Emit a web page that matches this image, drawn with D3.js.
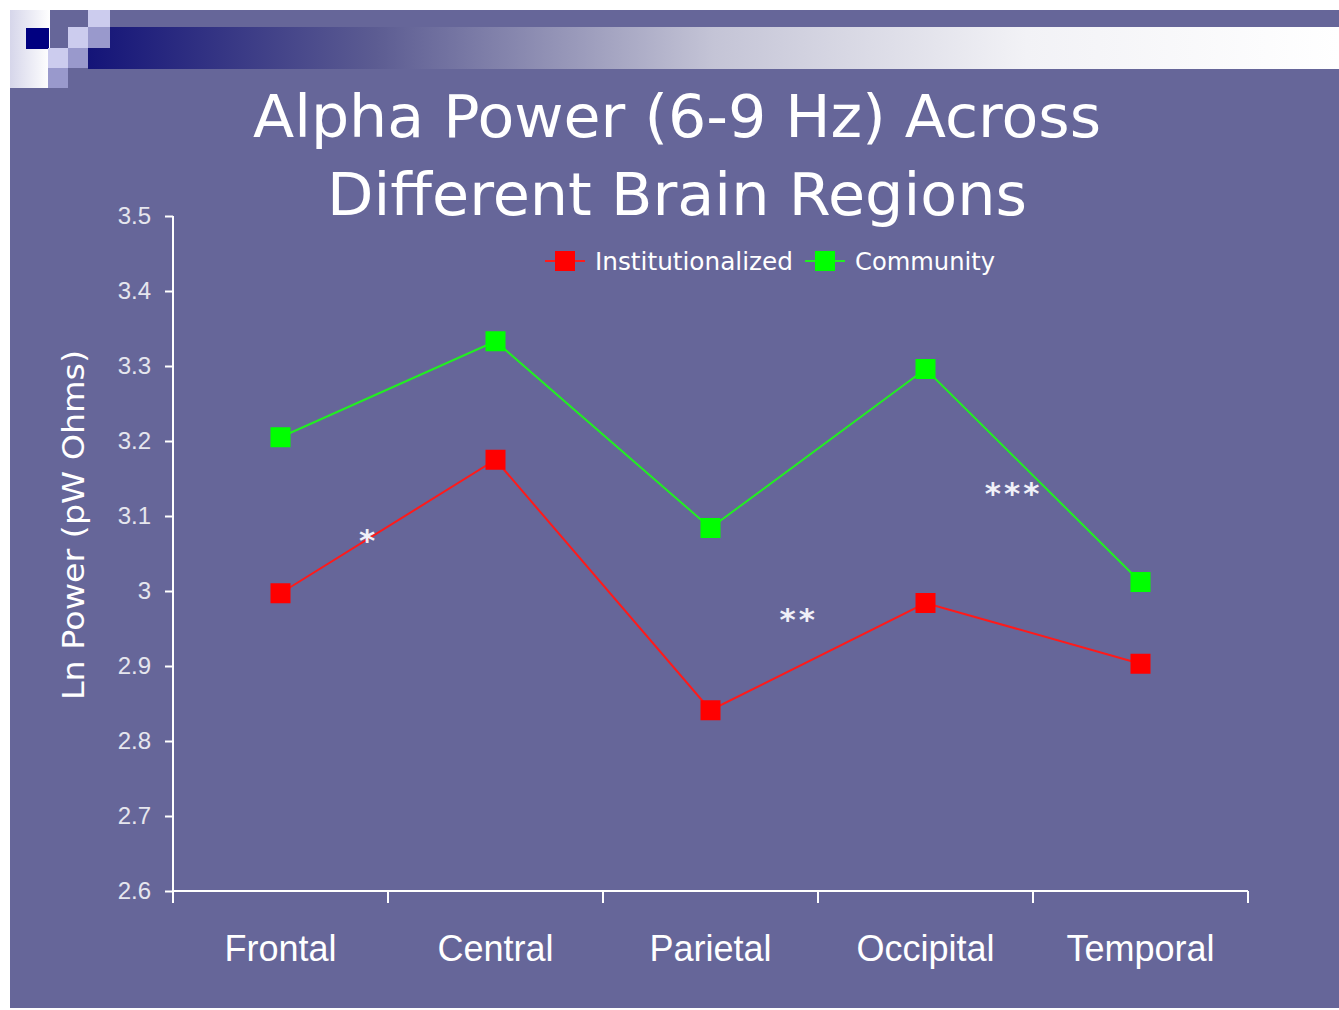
<!DOCTYPE html>
<html>
<head>
<meta charset="utf-8">
<script src="https://cdn.jsdelivr.net/npm/d3@7"></script>
<style>
  body { margin: 0; background: #fff; }
  svg { display: block; }
</style>
</head>
<body>
<script>
const regions = ["Frontal", "Central", "Parietal", "Occipital", "Temporal"];
const institutionalized = [2.997, 3.175, 2.841, 2.984, 2.903];
const community = [3.205, 3.333, 3.084, 3.296, 3.012];
const yTicks = [2.6, 2.7, 2.8, 2.9, 3, 3.1, 3.2, 3.3, 3.4, 3.5];
const stars = [
  {label: "*", pos: 0.41, value: 3.075},
  {label: "**", pos: 2.41, value: 2.97},
  {label: "***", pos: 3.41, value: 3.138}
];

const W = 1339, H = 1010;
const margin = {top: 216, left: 173, right: 91, bottom: 119};
const width = W - margin.left - margin.right,
    height = H - margin.top - margin.bottom;
const bg = "#666699";

const svg = d3.select("body").append("svg")
    .attr("width", W)
    .attr("height", H);

const defs = svg.append("defs");
const grad = defs.append("linearGradient").attr("id", "band");
grad.append("stop").attr("offset", "0%").attr("stop-color", "#141478");
grad.append("stop").attr("offset", "23%").attr("stop-color", "#5c5c92");
grad.append("stop").attr("offset", "50%").attr("stop-color", "#c4c4d6");
grad.append("stop").attr("offset", "75%").attr("stop-color", "#f2f2f6");
grad.append("stop").attr("offset", "100%").attr("stop-color", "#ffffff");
const grad2 = defs.append("linearGradient").attr("id", "leftSq");
grad2.append("stop").attr("offset", "0%").attr("stop-color", "#d6d6ea");
grad2.append("stop").attr("offset", "100%").attr("stop-color", "#ffffff");

// slide background
svg.append("rect")
    .attr("x", 10).attr("y", 10)
    .attr("width", W - 10).attr("height", 998)
    .attr("fill", bg);

// header band
svg.append("rect")
    .attr("x", 88).attr("y", 27)
    .attr("width", W - 88).attr("height", 42)
    .attr("fill", "url(#band)");
svg.append("rect").attr("x", 10).attr("y", 10).attr("width", 40).attr("height", 78)
    .attr("fill", "url(#leftSq)");
const squares = [
  [26, 28, 23, 21, "#000080"],
  [88, 10, 22, 17, "#ccccee"],
  [68, 27, 20, 21, "#ccccee"],
  [88, 27, 22, 21, "#9999cc"],
  [48, 48, 20, 20, "#ccccee"],
  [68, 48, 20, 20, "#9999cc"],
  [48, 68, 20, 20, "#9999cc"]
];
svg.selectAll("rect.sq").data(squares).enter().append("rect")
    .attr("class", "sq")
    .attr("x", d => d[0]).attr("y", d => d[1])
    .attr("width", d => d[2]).attr("height", d => d[3])
    .attr("fill", d => d[4]);

// title
const title = svg.append("text")
    .attr("x", 677)
    .attr("text-anchor", "middle")
    .attr("fill", "#ffffff")
    .style("font-family", "'DejaVu Sans', Verdana, sans-serif")
    .style("font-size", "58px");
title.append("tspan").attr("x", 677).attr("y", 137)
    .attr("textLength", 848).attr("lengthAdjust", "spacingAndGlyphs")
    .text("Alpha Power (6-9 Hz) Across");
title.append("tspan").attr("x", 677).attr("y", 215)
    .attr("textLength", 700).attr("lengthAdjust", "spacingAndGlyphs")
    .text("Different Brain Regions");

const g = svg.append("g")
    .attr("transform", "translate(" + margin.left + "," + margin.top + ")");

const x = d3.scaleBand().domain(regions).range([0, width]);
const y = d3.scaleLinear().domain([2.6, 3.5]).range([height, 0]);
const cx = d => x(d) + x.bandwidth() / 2;

const yAxis = d3.axisLeft(y)
    .tickValues(yTicks)
    .tickFormat(d3.format("~g"))
    .tickSize(8)
    .tickPadding(14);
const yg = g.append("g").call(yAxis);
yg.select(".domain").attr("d", "M0,0V" + height);

const xAxis = d3.axisBottom(x).tickSize(0).tickPadding(44);
const xg = g.append("g")
    .attr("transform", "translate(0," + height + ")")
    .call(xAxis);
xg.select(".domain").attr("d", "M0,0H" + width);

// category boundary ticks
const bounds = regions.map(r => x(r)).concat([width]);
xg.selectAll("line.bound").data(bounds).enter().append("line")
    .attr("class", "bound")
    .attr("x1", d => d).attr("x2", d => d)
    .attr("y1", 0).attr("y2", 12)
    .attr("stroke", "#ffffff").attr("stroke-width", 2);

[yg, xg].forEach(a => {
  a.selectAll(".domain, .tick line").attr("stroke", "#ffffff").attr("stroke-width", 2);
});
yg.selectAll(".tick text")
    .attr("fill", "#e6e6ee")
    .style("font-family", "'Liberation Sans', Arial, sans-serif")
    .style("font-size", "24px");
xg.selectAll(".tick text")
    .attr("fill", "#ffffff")
    .style("font-family", "'Liberation Sans', Arial, sans-serif")
    .style("font-size", "36px");

// y axis title
svg.append("text")
    .attr("transform", "translate(84,525) rotate(-90)")
    .attr("text-anchor", "middle")
    .attr("fill", "#ffffff")
    .style("font-family", "'DejaVu Sans', Verdana, sans-serif")
    .style("font-size", "30px")
    .attr("textLength", 350).attr("lengthAdjust", "spacingAndGlyphs")
    .text("Ln Power (pW Ohms)");

const series = [
  {name: "Institutionalized", values: institutionalized, color: "#ff0000", line: "#ff1a1a"},
  {name: "Community", values: community, color: "#00ff00", line: "#22ee22"}
];

const line = d3.line()
    .x((d, i) => cx(regions[i]))
    .y(d => y(d));

series.forEach(s => {
  g.append("path")
      .datum(s.values)
      .attr("fill", "none")
      .attr("stroke", s.line)
      .attr("stroke-width", 2)
      .attr("d", line);
  g.selectAll(null).data(s.values).enter().append("rect")
      .attr("x", (d, i) => cx(regions[i]) - 10)
      .attr("y", d => y(d) - 10)
      .attr("width", 20).attr("height", 20)
      .attr("fill", s.color);
});

// significance stars
g.selectAll("text.star").data(stars).enter().append("text")
    .attr("class", "star")
    .attr("x", d => d.pos * x.bandwidth() + x.bandwidth() / 2)
    .attr("y", d => y(d.value) + 16)
    .attr("text-anchor", "middle")
    .attr("fill", "#f0f0f8")
    .attr("letter-spacing", "3px")
    .style("font-family", "'DejaVu Sans', sans-serif")
    .style("font-size", "31px")
    .style("font-weight", "bold")
    .text(d => d.label);

// legend
const legend = svg.append("g").attr("transform", "translate(545,261)");
series.forEach((s, i) => {
  const item = legend.append("g").attr("transform", "translate(" + (i === 0 ? 0 : 260) + ",0)");
  item.append("line").attr("x1", 0).attr("x2", 40).attr("y1", 0).attr("y2", 0)
      .attr("stroke", s.line).attr("stroke-width", 2);
  item.append("rect").attr("x", 10).attr("y", -10).attr("width", 20).attr("height", 20)
      .attr("fill", s.color);
  item.append("text").attr("x", 50).attr("y", 9)
      .attr("fill", "#ffffff")
      .style("font-family", "'DejaVu Sans', Verdana, sans-serif")
      .style("font-size", "25px")
      .attr("textLength", i === 0 ? 198 : 140).attr("lengthAdjust", "spacingAndGlyphs")
      .text(s.name);
});
</script>
</body>
</html>
